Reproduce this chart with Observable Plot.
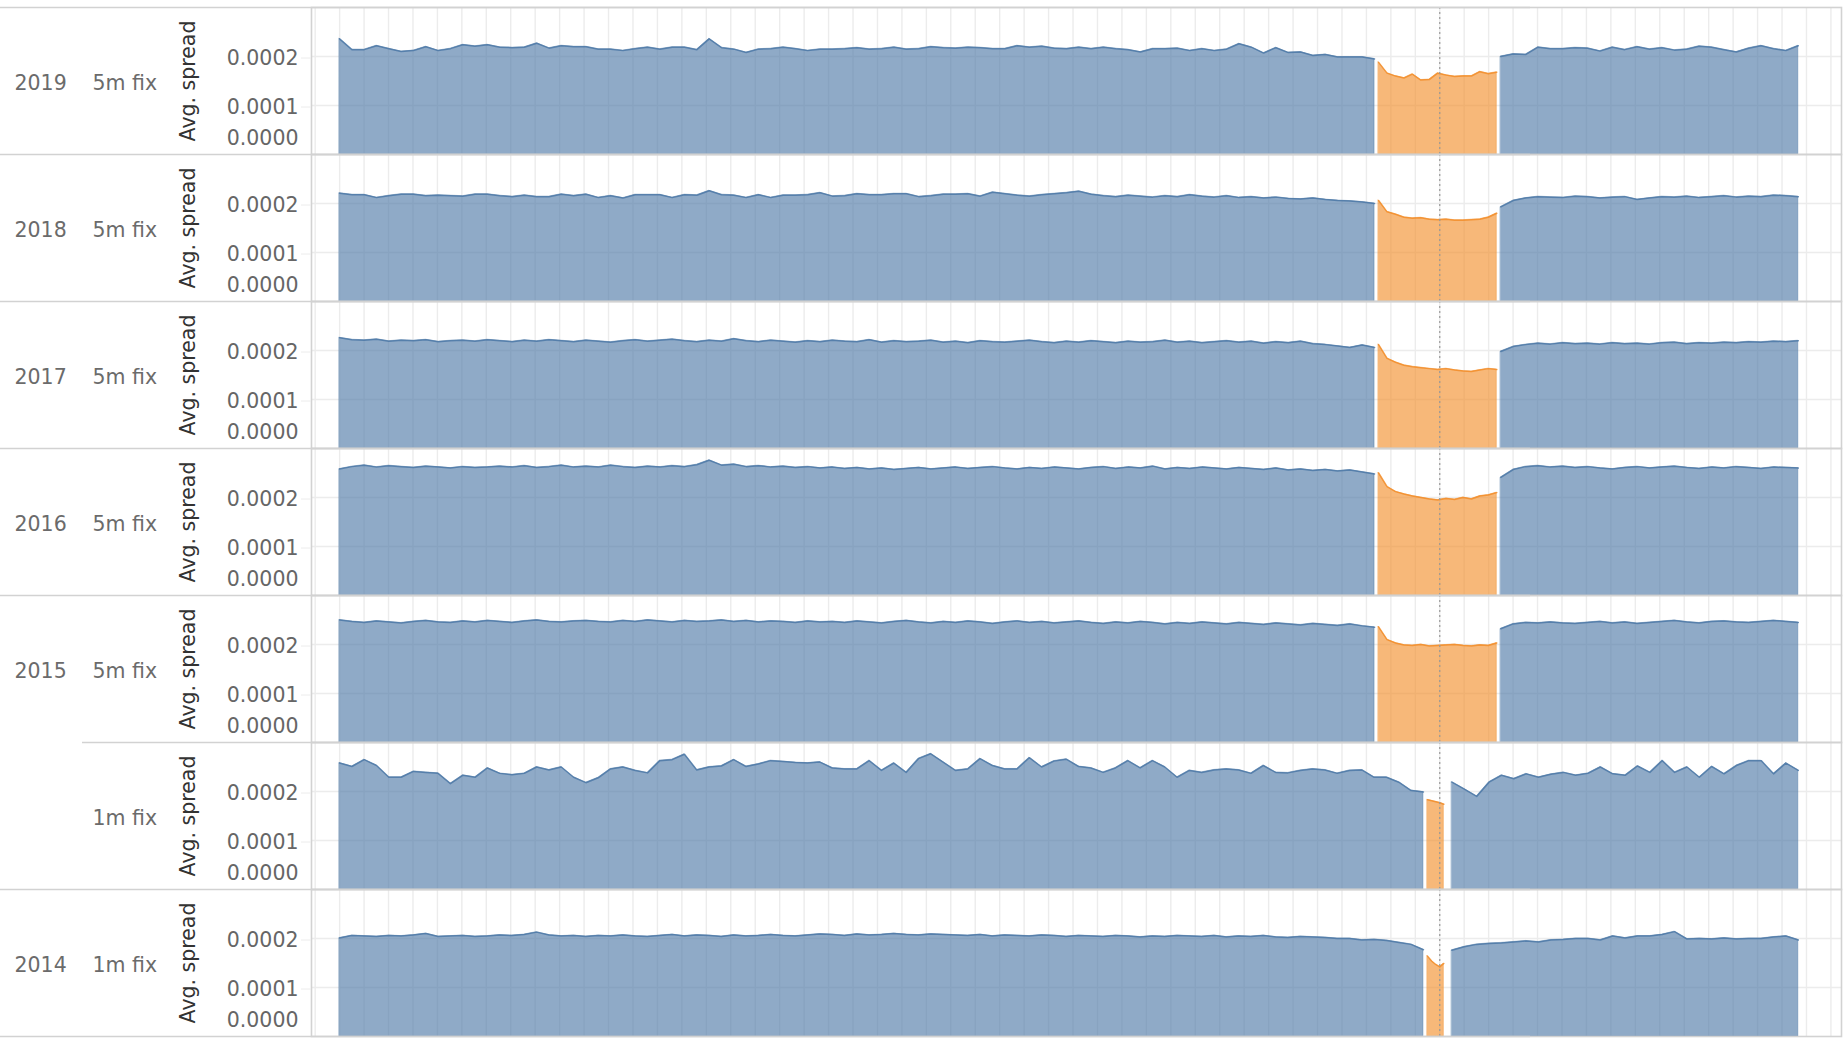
<!DOCTYPE html>
<html><head><meta charset="utf-8">
<script src="https://cdn.jsdelivr.net/npm/d3@7"></script>
<script src="https://cdn.jsdelivr.net/npm/@observablehq/plot@0.6"></script>
<style>
html,body{margin:0;padding:0;background:#fff;}
#chart{width:1843px;height:1041px;overflow:hidden;}
</style></head><body><div id="chart"></div>
<script>
// ---- values (avg. spread, in units of 1e-6) ----
const UNIT = 1e-6;
const rowKeys = ["2019 5m", "2018 5m", "2017 5m", "2016 5m", "2015 5m", "2015 1m", "2014 1m"];
const yearLabels = ["2019", "2018", "2017", "2016", "2015", "", "2014"];
const fixLabels = ["5m fix", "5m fix", "5m fix", "5m fix", "5m fix", "1m fix", "1m fix"];
const yTickValues = [0.0001, 0.0002];
const yZeroTick = [0];
const yDomain = [0, 0.0003];
const yTitle = "Avg. spread";
// time spans in seconds relative to 16:00:00 (fix centre)
const pre5m = [-2700, -160], fix5m = [-150, 140], post5m = [150, 880];
const pre1m = [-2700, -40], fix1m = [-30, 10], post1m = [30, 880];
const xDomain = [-2769, 986];
const minuteGrid = d3.range(-2760, 986, 60);
const fixCentre = [0];

const pre2019 = [236,214,214,222,216,210,212,220,212,216,224,221,224,219,218,219,227,217,222,220,220,215,215,212,216,219,215,219,219,214,236,218,215,208,215,216,219,216,212,215,215,216,218,215,216,219,215,216,220,218,217,219,218,216,216,222,219,221,217,216,219,216,219,216,214,209,216,216,217,212,216,212,215,226,219,207,218,208,209,202,204,199,199,199,195];
const fix2019 = [188,166,160,156,164,152,153,166,162,159,160,160,169,165,168];
const post2019 = [200,205,204,219,216,216,218,217,211,219,214,220,215,218,213,215,221,219,214,209,217,222,216,212,222];

const pre2018 = [221,218,218,212,216,219,219,216,217,216,215,219,219,216,214,217,214,214,219,216,219,212,216,211,218,218,218,212,218,217,226,218,217,212,218,212,217,217,218,222,215,216,220,218,218,220,220,214,216,219,219,220,215,223,220,217,215,218,220,222,225,219,216,214,217,215,213,216,214,218,215,213,216,212,214,211,213,210,209,211,208,206,205,203,200];
const fix2018 = [206,183,178,172,170,171,168,167,168,166,166,167,168,172,180];
const post2018 = [193,206,211,214,213,212,215,214,211,213,214,208,211,214,213,215,212,214,216,213,215,214,217,216,214];

const pre2017 = [226,222,221,223,219,221,220,222,218,220,221,219,222,220,218,221,219,222,220,218,221,219,217,220,222,219,221,223,220,218,221,219,224,220,218,221,219,217,220,218,221,219,218,222,217,220,218,219,221,217,219,216,220,218,217,219,221,218,216,219,217,220,218,216,219,217,218,221,217,219,216,218,220,217,219,215,218,216,219,214,212,209,206,211,206];
const fix2017 = [212,184,176,170,167,165,163,161,163,160,158,157,160,163,161];
const post2017 = [198,208,212,215,213,216,214,215,213,216,214,215,213,216,217,214,216,215,217,216,218,217,219,218,220];

const pre2016 = [258,263,266,262,265,263,261,264,262,260,263,261,262,264,262,265,261,263,266,262,264,262,266,263,261,264,262,265,263,267,276,266,268,263,265,262,264,261,263,260,262,259,261,258,260,257,259,261,258,260,262,259,261,263,260,258,261,259,262,260,258,261,263,259,262,260,264,258,261,259,262,260,258,261,259,257,260,256,258,255,257,254,256,252,248];
const fix2016 = [250,222,212,207,203,200,197,195,198,196,200,197,203,205,210];
const post2016 = [241,257,263,265,262,264,261,263,260,258,261,263,260,262,264,261,259,262,260,263,261,259,262,261,260];

const pre2015 = [250,247,245,248,246,244,247,249,246,245,248,246,249,247,245,248,250,247,246,248,249,247,246,249,247,250,248,246,249,247,248,250,247,249,246,248,247,245,248,246,247,245,248,246,244,247,249,246,244,247,245,248,246,243,246,248,245,247,244,246,248,245,243,246,244,247,245,242,245,243,246,244,242,245,243,241,244,242,240,243,241,239,242,238,235];
const fix2015 = [236,210,203,199,198,200,197,198,199,200,198,197,199,198,203];
const post2015 = [232,242,245,244,246,244,243,245,247,244,246,243,245,247,249,246,244,247,248,246,245,247,249,247,245];

const pre2015b = [258,251,265,253,229,229,241,239,237,216,233,229,248,237,234,237,250,244,250,229,218,228,246,250,243,238,263,265,276,244,250,252,265,251,256,263,261,259,258,260,248,246,246,263,243,258,239,267,277,260,243,246,267,253,246,246,269,250,262,266,251,248,239,248,263,248,263,250,229,243,239,244,246,244,237,253,239,238,243,246,244,237,243,244,229,229,219,202,199];
const fix2015b = [183,181,179,177,174];
const post2015b = [219,205,190,219,233,226,236,229,235,239,233,237,250,236,233,252,239,263,239,250,229,251,236,253,263,263,236,258,243];

const pre2014 = [201,206,205,204,206,205,207,210,204,205,206,204,205,207,206,208,213,207,205,206,204,206,205,207,205,204,206,208,205,207,206,204,207,205,206,208,206,205,207,209,208,206,209,207,208,210,208,207,209,208,207,206,208,205,207,206,205,207,206,204,206,205,204,206,205,203,205,204,206,205,204,206,203,205,204,206,203,202,204,203,202,200,200,197,198,196,192,188,177];
const fix2014 = [164,154,147,142,149];
const post2014 = [176,183,188,190,191,193,195,193,197,198,200,200,197,205,201,205,205,208,214,199,200,199,201,199,200,200,203,205,197];

// ---- build table ----
function seg(row, kind, part, span, vals) {
  const n = vals.length;
  return vals.map((v, i) => ({row, kind, seg: row + "|" + part, t: span[0] + i * (span[1] - span[0]) / (n - 1), v: v * UNIT}));
}
const data = [].concat(
  seg("2019 5m","regular","pre",pre5m,pre2019), seg("2019 5m","fix","fix",fix5m,fix2019), seg("2019 5m","regular","post",post5m,post2019),
  seg("2018 5m","regular","pre",pre5m,pre2018), seg("2018 5m","fix","fix",fix5m,fix2018), seg("2018 5m","regular","post",post5m,post2018),
  seg("2017 5m","regular","pre",pre5m,pre2017), seg("2017 5m","fix","fix",fix5m,fix2017), seg("2017 5m","regular","post",post5m,post2017),
  seg("2016 5m","regular","pre",pre5m,pre2016), seg("2016 5m","fix","fix",fix5m,fix2016), seg("2016 5m","regular","post",post5m,post2016),
  seg("2015 5m","regular","pre",pre5m,pre2015), seg("2015 5m","fix","fix",fix5m,fix2015), seg("2015 5m","regular","post",post5m,post2015),
  seg("2015 1m","regular","pre",pre1m,pre2015b), seg("2015 1m","fix","fix",fix1m,fix2015b), seg("2015 1m","regular","post",post1m,post2015b),
  seg("2014 1m","regular","pre",pre1m,pre2014), seg("2014 1m","fix","fix",fix1m,fix2014), seg("2014 1m","regular","post",post1m,post2014)
);
const rowTable = rowKeys.map((key, i) => ({key, year: yearLabels[i], fix: fixLabels[i],
  partial: i + 1 < rowKeys.length && yearLabels[i + 1] === ""}));

const sepColor = "#d2d2d2";
const gridColor = "#ececec";
const FONT = "DejaVu Sans, sans-serif";

const chart = Plot.plot({
  width: 1843, height: 1041,
  marginLeft: 311, marginRight: 2, marginTop: 7, marginBottom: 5,
  style: {fontFamily: FONT, fontSize: "20.5px", background: "#fff"},
  x: {domain: xDomain, axis: null},
  y: {domain: yDomain, axis: null},
  fy: {domain: rowKeys, padding: 0, axis: null},
  color: {domain: ["regular", "fix"], range: ["#4e79a7", "#f28e2b"]},
  marks: [
    Plot.gridX(minuteGrid, {stroke: gridColor, strokeOpacity: 1, strokeWidth: 1.4}),
    Plot.gridY(yTickValues, {stroke: gridColor, strokeOpacity: 1, strokeWidth: 1.4}),
    Plot.areaY(data, {x: "t", y: "v", z: "seg", fy: "row", fill: "kind", fillOpacity: 0.63,
      stroke: "kind", strokeOpacity: 0.45, strokeWidth: 1}),
    Plot.lineY(data, {x: "t", y: "v", z: "seg", fy: "row", stroke: "kind", strokeOpacity: 0.85, strokeWidth: 1.5}),
    Plot.ruleX(fixCentre, {stroke: "#999", strokeDasharray: "2,3", strokeWidth: 1.2}),
    Plot.frame({stroke: sepColor, strokeWidth: 1.6}),
    Plot.ruleY(rowTable.filter(d => !d.partial), {fy: "key", y: () => yDomain[0], dx: -311, stroke: sepColor, strokeWidth: 1.6}),
    Plot.ruleY(rowTable.filter(d => d.partial), {fy: "key", y: () => yDomain[0], dx: -229, stroke: sepColor, strokeWidth: 1.6}),
    Plot.ruleY(rowTable.slice(0, 1), {fy: "key", y: () => yDomain[1], dx: -311, stroke: sepColor, strokeWidth: 1.6}),
    Plot.axisY({ticks: yTickValues, tickFormat: d3.format(".4f"), tickSize: 10, tickPadding: 3,
      stroke: gridColor, fill: "#666", label: null, fontSize: "20.5px", dy: 1.5}),
    Plot.axisY({ticks: yZeroTick, tickFormat: d3.format(".4f"), tickSize: 0, tickPadding: 13,
      fill: "#666", dy: -16, label: null, fontSize: "20.5px"}),
    Plot.text([yTitle], {frameAnchor: "left", text: d => d, rotate: -90, textAnchor: "middle", dx: -123, fill: "#333", fontSize: "20.5px"}),
    Plot.text(rowTable, {fy: "key", frameAnchor: "left", text: "year", dx: -297, dy: 2, textAnchor: "start", fill: "#6b6b6b", fontSize: "20.5px"}),
    Plot.text(rowTable, {fy: "key", frameAnchor: "left", text: "fix", dx: -219, dy: 2, textAnchor: "start", fill: "#6b6b6b", fontSize: "20.5px"})
  ]
});
document.getElementById("chart").appendChild(chart);
</script>
</body></html>
